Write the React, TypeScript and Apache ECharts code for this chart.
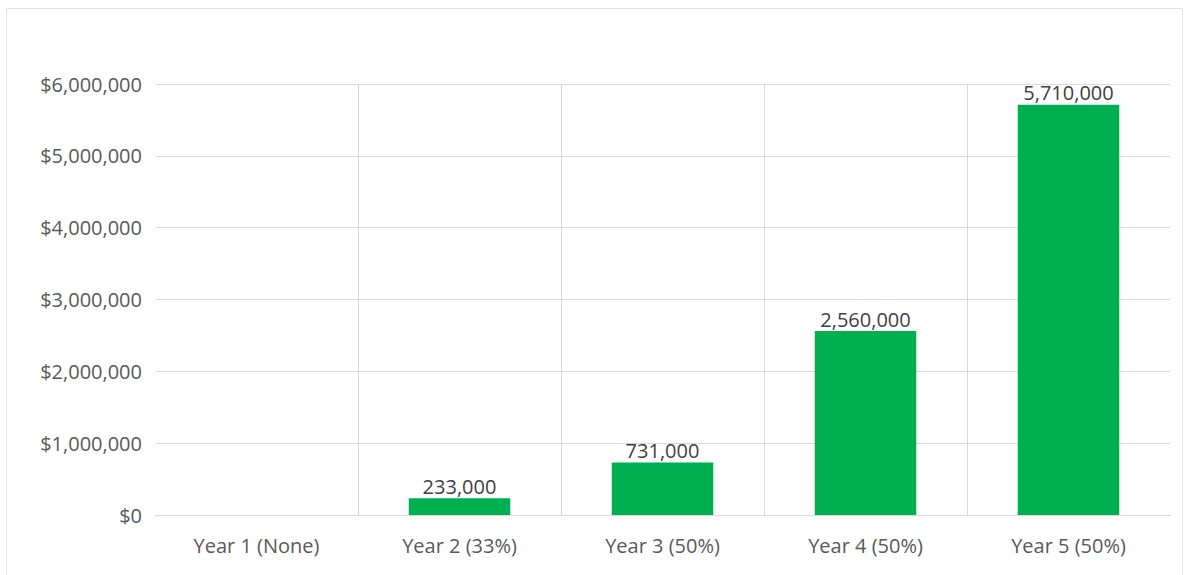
import React, { useEffect, useRef } from "react";
import * as echarts from "echarts";

const categories = ["Year 1 (None)", "Year 2 (33%)", "Year 3 (50%)", "Year 4 (50%)", "Year 5 (50%)"];
const values = [0, 233000, 731000, 2560000, 5710000];
const yMin = 0;
const yMax = 6000000;
const yInterval = 1000000;

const FONT = "'Open Sans', 'Noto Sans', sans-serif";

function fmt(n: number): string {
  return n.toString().replace(/\B(?=(\d{3})+(?!\d))/g, ",");
}

export default function App() {
  const ref = useRef<HTMLDivElement>(null);
  useEffect(() => {
    if (!ref.current) return;
    const chart = echarts.init(ref.current, undefined, { renderer: "svg" });
    chart.setOption({
      animation: false,
      backgroundColor: "#ffffff",
      graphic: [
        {
          type: "rect",
          shape: { x: 6.5, y: 8.5, width: 1176, height: 580 },
          style: { fill: "none", stroke: "#e3e3e3", lineWidth: 1 },
          silent: true,
        },
      ],
      grid: { left: 155, right: 18, top: 84, bottom: 60, containLabel: false },
      xAxis: {
        type: "category",
        data: categories,
        boundaryGap: true,
        axisLine: { show: true, lineStyle: { color: "#d9d9d9", width: 1 } },
        axisTick: { show: false },
        axisLabel: { color: "#595959", fontSize: 20, fontFamily: FONT, margin: 20 },
        splitLine: { show: true, showMinLine: false, showMaxLine: false, lineStyle: { color: "#d9d9d9", width: 1 } },
      },
      yAxis: {
        type: "value",
        min: yMin,
        max: yMax,
        interval: yInterval,
        axisLine: { show: false },
        axisTick: { show: false },
        axisLabel: {
          color: "#595959",
          fontSize: 20,
          fontFamily: FONT,
          margin: 13,
          formatter: (v: number) => "$" + fmt(v),
        },
        splitLine: { show: true, lineStyle: { color: "#d9d9d9", width: 1 } },
      },
      series: [
        {
          type: "bar",
          data: values,
          barWidth: "50%",
          itemStyle: { color: "#00b050" },
          label: {
            show: true,
            position: "top",
            distance: 2,
            color: "#404040",
            fontSize: 20,
            fontFamily: FONT,
            formatter: (p: any) => (p.value === 0 ? "" : fmt(p.value)),
          },
        },
      ],
    });
    return () => chart.dispose();
  }, []);
  return (
    <div
      ref={ref}
      style={{ position: "fixed", left: 0, top: 0, width: 1188, height: 575 }}
    />
  );
}
